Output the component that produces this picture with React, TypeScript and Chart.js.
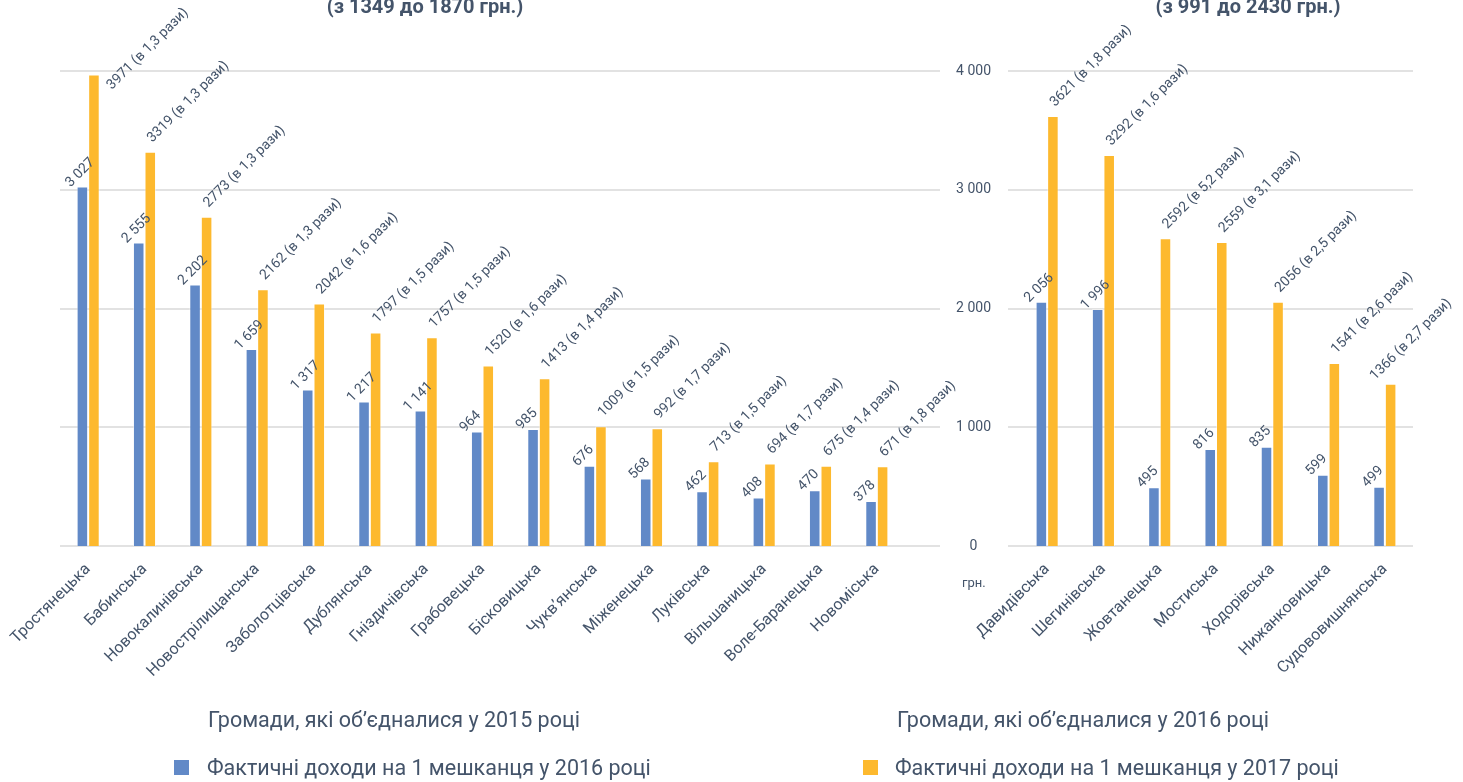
import React, { useEffect, useRef } from 'react';
import { Chart, registerables } from 'chart.js';

Chart.register(...registerables);

// ---------- DATA ----------
const leftCategories = [
  'Тростянецька', 'Бабинська', 'Новокалинівська', 'Новострілищанська', 'Заболотцівська',
  'Дублянська', 'Гніздичівська', 'Грабовецька', 'Бісковицька', 'Чукв’янська',
  'Міженецька', 'Луківська', 'Вільшаницька', 'Воле-Баранецька', 'Новоміська',
];
const left2016 = [3027, 2555, 2202, 1659, 1317, 1217, 1141, 964, 985, 676, 568, 462, 408, 470, 378];
const left2017 = [3971, 3319, 2773, 2162, 2042, 1797, 1757, 1520, 1413, 1009, 992, 713, 694, 675, 671];
const leftRatio = ['1,3', '1,3', '1,3', '1,3', '1,6', '1,5', '1,5', '1,6', '1,4', '1,5', '1,7', '1,5', '1,7', '1,4', '1,8'];

const rightCategories = [
  'Давидівська', 'Шегинівська', 'Жовтанецька', 'Мостиська', 'Ходорівська', 'Нижанковицька', 'Судововишнянська',
];
const right2016 = [2056, 1996, 495, 816, 835, 599, 499];
const right2017 = [3621, 3292, 2592, 2559, 2056, 1541, 1366];
const rightRatio = ['1,8', '1,6', '5,2', '3,1', '2,5', '2,6', '2,7'];

const yTicks = [0, 1000, 2000, 3000, 4000];

const leftTitle = '(з 1349 до 1870 грн.)';
const rightTitle = '(з 991 до 2430 грн.)';
const leftAxisTitle = 'Громади, які об’єдналися у 2015 році';
const rightAxisTitle = 'Громади, які об’єдналися у 2016 році';
const series2016 = 'Фактичні доходи на 1 мешканця у 2016 році';
const series2017 = 'Фактичні доходи на 1 мешканця у 2017 році';
const unitLabel = 'грн.';

// ---------- STYLE ----------
const BLUE = '#6189C7';
const YELLOW = '#FDB92E';
const TEXT = '#44546A';
const GRID = '#D9D9D9';
const W = 1463;
const H = 782;

const fmt = (n: number) => String(n).replace(/\B(?=(\d{3})+(?!\d))/g, ' ');

Chart.defaults.font.family = 'Roboto';

const gridPlugin = {
  id: 'extGrid',
  beforeDatasetsDraw(chart: any, _args: any, opts: any) {
    const y = chart.scales.y;
    const ctx = chart.ctx;
    const { left, right } = chart.chartArea;
    ctx.save();
    ctx.strokeStyle = GRID;
    ctx.lineWidth = 1.6;
    yTicks.forEach((v) => {
      const py = Math.round(y.getPixelForValue(v));
      ctx.beginPath();
      ctx.moveTo(left + (opts.extLeft || 0), py);
      ctx.lineTo(right + (opts.extRight || 0), py);
      ctx.stroke();
    });
    ctx.restore();
  },
};

const labelPlugin = {
  id: 'barLabels',
  afterDatasetsDraw(chart: any, _args: any, opts: any) {
    const ctx = chart.ctx;
    const maxRight = chart.width - 11;
    chart.data.datasets.forEach((_ds: any, di: number) => {
      const meta = chart.getDatasetMeta(di);
      const texts: string[] = opts.texts[di];
      const [dx, dy] = opts.offsets[di];
      meta.data.forEach((bar: any, i: number) => {
        const text = texts[i];
        ctx.save();
        ctx.font = '14px Roboto';
        const w = ctx.measureText(text).width;
        let x = bar.x + dx;
        let y = bar.y + dy;
        const topY = y - (w + 10) * Math.SQRT1_2;
        if (topY < 6) {
          const d = 6 - topY;
          y += d;
          x += d * 0.65;
        }
        const rightX = x + w * Math.SQRT1_2;
        if (rightX > maxRight) {
          const d = rightX - maxRight;
          x -= d;
          y += d / 3;
        }
        ctx.translate(x, y);
        ctx.rotate(-Math.PI / 4);
        ctx.fillStyle = TEXT;
        ctx.textAlign = 'left';
        ctx.textBaseline = 'alphabetic';
        ctx.fillText(text, 0, 0);
        ctx.restore();
      });
    });
  },
};

function makeConfig(
  cats: string[], v16: number[], v17: number[], ratio: string[],
  padding: any, showY: boolean, extLeft: number, extRight: number,
): any {
  return {
    type: 'bar',
    data: {
      labels: cats,
      datasets: [
        {
          label: series2016, data: v16, backgroundColor: BLUE,
          borderColor: 'rgba(255,255,255,0.45)', borderWidth: 1,
          barPercentage: 1, categoryPercentage: 0.41,
        },
        {
          label: series2017, data: v17, backgroundColor: YELLOW,
          borderColor: 'rgba(255,255,255,0.45)', borderWidth: 1,
          barPercentage: 1, categoryPercentage: 0.41,
        },
      ],
    },
    options: {
      responsive: false,
      animation: false,
      layout: { padding },
      plugins: {
        legend: { display: false },
        tooltip: { enabled: false },
        extGrid: { extLeft, extRight },
        barLabels: {
          texts: [v16.map(fmt), v17.map((v, i) => `${v} (в ${ratio[i]} рази)`)],
          offsets: [[-12, 1], [2, -9]],
        },
      },
      scales: {
        x: {
          grid: { display: false },
          border: { display: false },
          ticks: {
            color: TEXT, font: { size: 16 }, minRotation: 45, maxRotation: 45,
            autoSkip: false, padding: 6,
          },
          afterFit: (s: any) => { s.height = 150; s.paddingLeft = 0; s.paddingRight = 0; },
        },
        y: {
          min: 0, max: 4000,
          grid: { display: false, drawTicks: false },
          border: { display: false },
          ticks: {
            display: showY, stepSize: 1000, color: TEXT, font: { size: 14 },
            crossAlign: 'center', padding: 28,
            callback: (v: any) => fmt(Number(v)),
          },
          afterFit: (s: any) => { s.width = showY ? 100 : 0; },
        },
      },
    },
    plugins: [gridPlugin, labelPlugin],
  };
}

const abs = (extra: any): any => ({ position: 'absolute', whiteSpace: 'nowrap', color: TEXT, fontFamily: 'Roboto', ...extra });

export default function App() {
  const leftRef = useRef<HTMLCanvasElement>(null);
  const rightRef = useRef<HTMLCanvasElement>(null);

  useEffect(() => {
    const c1 = new Chart(leftRef.current as HTMLCanvasElement,
      makeConfig(leftCategories, left2016, left2017, leftRatio,
        { left: 60, right: W - 905, top: 71, bottom: H - 546 - 150 }, false, 0, 35));
    const c2 = new Chart(rightRef.current as HTMLCanvasElement,
      makeConfig(rightCategories, right2016, right2017, rightRatio,
        { left: 919, right: W - 1413, top: 71, bottom: H - 546 - 150 }, true, -11, 0));
    return () => { c1.destroy(); c2.destroy(); };
  }, []);

  return (
    <div style={{ position: 'absolute', left: 0, top: 0, width: W, height: H, overflow: 'hidden', background: '#fff' }}>
      <canvas ref={leftRef} width={W} height={H} style={{ position: 'absolute', left: 0, top: 0 }} />
      <canvas ref={rightRef} width={W} height={H} style={{ position: 'absolute', left: 0, top: 0 }} />
      <div style={abs({ left: 225, width: 400, top: -4, textAlign: 'center', fontSize: 20, lineHeight: '20px', fontWeight: 'bold' })}>{leftTitle}</div>
      <div style={abs({ left: 1048, width: 400, top: -4, textAlign: 'center', fontSize: 20, lineHeight: '20px', fontWeight: 'bold' })}>{rightTitle}</div>
      <div style={abs({ left: 962, top: 576, fontSize: 13, lineHeight: '13px' })}>{unitLabel}</div>
      <div style={abs({ left: 208, top: 709, fontSize: 21.5, lineHeight: '21.5px' })}>{leftAxisTitle}</div>
      <div style={abs({ left: 897, top: 709, fontSize: 21.5, lineHeight: '21.5px' })}>{rightAxisTitle}</div>
      <div style={abs({ left: 174, top: 760, width: 15, height: 15, background: BLUE })} />
      <div style={abs({ left: 207, top: 757, fontSize: 21.5, lineHeight: '21.5px' })}>{series2016}</div>
      <div style={abs({ left: 863, top: 760, width: 15, height: 15, background: YELLOW })} />
      <div style={abs({ left: 895, top: 757, fontSize: 21.5, lineHeight: '21.5px' })}>{series2017}</div>
    </div>
  );
}
